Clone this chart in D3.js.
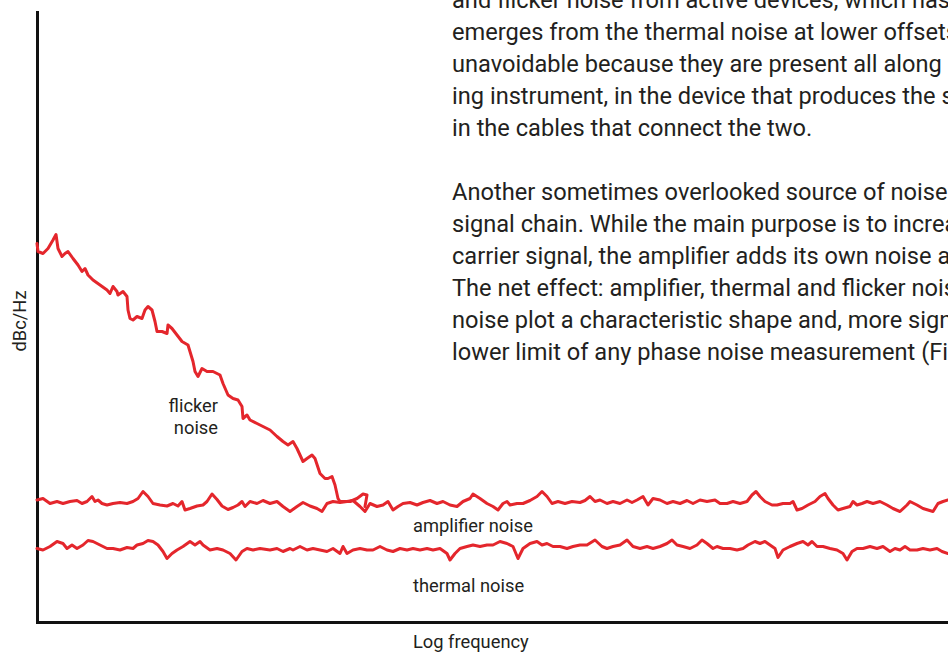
<!DOCTYPE html>
<html>
<head>
<meta charset="utf-8">
<script src="https://cdn.jsdelivr.net/npm/d3@7"></script>
<style>
  body { margin: 0; background: #fff; }
  svg { display: block; background: #fff; }
  text { font-family: Roboto, "Liberation Sans", sans-serif; fill: #231f20; }
  .domain { stroke: #111; stroke-width: 3; stroke-linecap: square; }
  .noise { fill: none; stroke: #e4262c; stroke-width: 3; stroke-linejoin: round; stroke-linecap: round; }
</style>
</head>
<body>
<svg width="948" height="654"></svg>
<script>
// log frequency (relative units) vs level (relative dB)
const amplifierNoise = [
  [0,24.4],[0.6,24.7],[1.3,23.7],[2,24.1],[2.6,23.7],[3.3,24.1],[4,24.3],[4.5,23.7],[5,24.1],[5.5,25.1],
  [5.8,24.1],[6.1,24.4],[6.5,23.7],[7,23.4],[7.6,23.7],[8.3,23.9],[9,23.7],[9.6,24.1],[10.1,24.7],[10.6,26.1],
  [11.1,25.1],[11.6,23.7],[12.3,23.4],[13,23.2],[13.6,23.7],[14.1,23.2],[14.5,24.1],[14.8,22.4],[15.3,22.7],[16,23.2],
  [16.6,23.4],[17,24.1],[17.5,25.6],[18,24.5],[18.5,23.2],[19.1,22.5],[19.6,22.9],[20.1,23.4],[20.5,24.1],[20.8,23.1],
  [21.3,24.1],[22,23.7],[22.6,24.3],[23.3,23.7],[24,24.1],[24.6,23.1],[25.3,22.1],[26,23.1],[26.6,23.9],[27.3,23.2],
  [28,22.7],[28.5,22.1],[29,23.7],[29.6,24.1],[30.3,23.9],[31,24.1],[31.6,24.3],[32.3,23.1],[32.8,22.1],[33.3,23.7],
  [34,23.1],[34.6,23.4],[35.1,24.1],[35.6,22.4],[36.1,23.1],[36.6,23.7],[37.3,23.9],[38,23.4],[38.6,23.9],[39.3,24.3],
  [40,23.7],[40.6,24.1],[41.3,23.4],[42,23.1],[42.6,24.1],[43.3,24.7],[43.6,25.6],[44.3,24.7],[45,23.7],[45.6,23.1],
  [46.1,22.4],[46.6,23.7],[47,24.1],[47.3,23.4],[48,23.7],[48.6,23.7],[49.3,24.3],[50,25.1],[50.5,26.1],[51,25.1],
  [51.5,23.7],[52.1,24.1],[52.8,23.7],[53.5,24.1],[54.3,23.9],[54.8,24.3],[55.3,25.1],[55.8,24.1],[56.3,24.4],[57,23.7],
  [57.6,24.1],[58.3,23.7],[59,24.4],[59.5,23.9],[60,24.4],[60.6,25.1],[61.1,23.4],[61.6,24.7],[62.3,24.4],[63,23.7],
  [63.6,24.1],[64.3,23.7],[65,24.3],[65.6,23.7],[66.3,24.4],[67,24.1],[67.8,24.4],[68.3,23.7],[69,23.7],[69.6,24.1],
  [70.3,23.7],[71,24.1],[71.5,25.4],[71.9,26.1],[72.3,25.1],[72.8,24.1],[73.5,23.4],[74,23.4],[74.6,23.7],[75.3,23.7],
  [75.6,24.1],[76,22.4],[76.5,22.7],[77.1,23.4],[77.8,24.1],[78.3,25.1],[78.8,25.7],[79.1,24.7],[79.6,23.4],[80.1,22.4],
  [80.6,22.7],[81.3,23.1],[81.6,24.1],[82,23.4],[82.5,23.7],[83,24.1],[83.6,23.7],[84.3,24.1],[85,23.4],[85.6,22.7],
  [86.3,22.1],[87,23.4],[87.3,24.1],[88,23.4],[88.6,22.7],[89.1,22.4],[89.6,22.1],[90.1,23.7],[90.6,24.1],[91.1,24.4],
  [92,24.4]
];

const thermalNoise = [
  [0,14.7],[0.6,14.4],[1.3,15.1],[2,16.1],[2.6,15.7],[3,14.7],[3.5,15.4],[4,14.7],[4.6,15.4],[5.1,16.3],
  [5.6,16.1],[6.3,15.4],[7,14.7],[7.6,14.7],[8.3,14.4],[9,14.9],[9.6,14.7],[10,15.4],[10.6,15.7],[11.1,16.3],
  [11.6,16.1],[12.1,15.4],[12.6,14.1],[13,12.7],[13.5,13.7],[14,14.4],[14.6,15.1],[15.3,16.1],[15.8,15.4],[16.3,16.1],
  [16.6,15.4],[17.3,14.4],[18,14.7],[18.6,14.4],[19.3,13.7],[19.9,12.4],[20.5,14.1],[21,14.7],[21.6,14.4],[22.3,14.7],
  [23.3,14.4],[24,14.7],[24.6,14.1],[25.3,14.7],[25.6,14.4],[26.3,15.1],[27,14.4],[27.6,14.7],[28.3,14.4],[29,14.1],
  [29.6,14.7],[30.3,13.7],[30.6,15.1],[31,13.7],[31.6,14.4],[32.3,14.7],[33,14.4],[33.6,14.4],[34.3,15.1],[35,14.4],
  [35.6,14.1],[36.3,14.7],[37,14.4],[37.6,14.7],[38.3,14.4],[39,14.7],[39.6,14.4],[40.3,14.7],[41,13.7],[41.3,12.4],
  [41.8,13.7],[42.3,14.7],[43,15.1],[43.6,15.4],[44.3,15.1],[45,15.4],[45.6,15.4],[46.3,16.1],[47,15.7],[47.6,15.1],
  [48.1,12.7],[48.6,14.7],[49.3,15.7],[50,16.1],[50.5,15.4],[51,15.7],[51.6,15.1],[52.3,15.1],[53,14.7],[53.6,15.1],
  [54.3,15.4],[55,15.4],[55.8,16.4],[56.5,15.1],[57,14.7],[57.6,15.1],[58.3,15.4],[59,16.4],[59.6,15.1],[60.3,14.7],
  [61,15.1],[61.6,14.7],[62.3,15.1],[63,15.7],[63.5,16.4],[64,15.4],[64.6,15.1],[65.3,14.7],[66,15.4],[66.5,16.4],
  [67,15.7],[67.6,14.7],[68,15.1],[68.6,14.7],[69.3,14.7],[70,14.4],[70.6,14.7],[71.1,15.4],[71.8,16.1],[72.3,15.7],
  [72.8,16.1],[73.3,15.4],[73.8,14.7],[74.1,12.9],[74.6,14.4],[75.3,15.1],[76,15.7],[76.6,16.1],[77.1,15.4],[77.5,16.1],
  [78,15.1],[78.6,15.1],[79.3,14.7],[80,14.4],[80.6,13.7],[81,12.4],[81.5,14.1],[82,14.7],[82.6,14.7],[83.3,15.1],
  [84,14.7],[84.6,15.1],[85.3,14.1],[85.8,14.7],[86.3,14.4],[86.8,15.1],[87.3,14.4],[88,14.4],[88.6,14.7],[89.3,14.4],
  [90,14.7],[90.5,14.1],[91.1,13.7],[92,14]
];

const flickerNoise = [
  [0,75.7],[0.1,74.1],[0.6,73.7],[1.1,74.7],[1.6,76.4],[1.9,77.5],[2.1,74.7],[2.5,73.1],[2.8,73.7],[3.1,74.1],
  [3.6,72.7],[4.1,71.4],[4.5,70.1],[4.8,70.7],[5.1,69.4],[5.6,68.4],[6.3,67.4],[7,66.4],[7.3,65.7],[7.6,67.1],
  [8,66.1],[8.1,65.4],[8.6,66.1],[9,65.1],[9.1,62.4],[9.3,60.7],[9.6,60.4],[10,61.1],[10.5,60.7],[10.8,62.4],
  [11.1,63.1],[11.5,62.4],[11.8,60.1],[12,58.1],[12.5,58.1],[13,57.7],[13.1,59.4],[13.5,58.7],[14,57.4],[14.5,56.1],
  [15.1,55.4],[15.6,52.1],[15.8,50.1],[16.1,49.1],[16.5,50.7],[17,50.1],[17.6,50.1],[18.3,49.4],[18.6,47.7],[19.1,45.4],
  [19.6,44.7],[20.1,44.4],[20.5,43.1],[20.6,40.7],[21,41.4],[21.3,40.4],[22,39.7],[22.6,39.1],[23.3,38.4],[24,37.1],
  [24.6,36.1],[25.1,35.4],[25.6,36.1],[26,34.7],[26.3,33.4],[26.6,32.1],[27,32.7],[27.5,33.4],[27.8,32.7],[28.3,29.7],
  [28.8,28.7],[29.1,28.7],[29.5,29.1],[29.8,27.4],[30.1,24.7],[30.3,24.1],[31.3,24.1],[32,24.7],[32.6,25.6],[33,25.4],
  [32.8,23.1]
];

const paragraphLines = [
  "and flicker noise from active devices, which has",
  "emerges from the thermal noise at lower offsets",
  "unavoidable because they are present all along",
  "ing instrument, in the device that produces the signal",
  "in the cables that connect the two.",
  "",
  "Another sometimes overlooked source of noise",
  "signal chain. While the main purpose is to increase",
  "carrier signal, the amplifier adds its own noise and",
  "The net effect: amplifier, thermal and flicker noise",
  "noise plot a characteristic shape and, more significantly,",
  "lower limit of any phase noise measurement (Figure"
];

const curveLabels = [
  {lines: ["flicker", "noise"], at: [18.1, 42], anchor: "end"},
  {lines: ["amplifier noise"], at: [37.6, 18], anchor: "start"},
  {lines: ["thermal noise"], at: [37.6, 6], anchor: "start"}
];

const svg = d3.select("svg");

// plot area runs past the right edge of the picture, as in the cropped original
const x = d3.scaleLinear().domain([0, 100]).range([37, 1037]);
const y = d3.scaleLinear().domain([0, 122]).range([622, 12]);

// pick a font size so that a sample string has the wanted width
function fitSize(sample, width, base) {
  let t = svg.append("text").attr("font-size", base).text(sample);
  let w = t.node().getComputedTextLength();
  t.remove();
  return base * width / w;
}

const bodySize = fitSize("emerges from the thermal noise at lower offset", 494, 20);
const labelSize = fitSize("amplifier noise", 120, 16);

// body text to the right of the chart
svg.append("g")
    .selectAll("text")
    .data(paragraphLines)
    .enter().append("text")
    .attr("x", 452)
    .attr("y", (d, i) => 8 + i * 32)
    .attr("font-size", bodySize)
    .text(d => d);

// axes without ticks
svg.append("g")
    .attr("transform", "translate(0," + y(0) + ")")
    .call(d3.axisBottom(x).ticks(0).tickSizeOuter(0));
svg.append("g")
    .attr("transform", "translate(" + x(0) + ",0)")
    .call(d3.axisLeft(y).ticks(0).tickSizeOuter(0));

let line = d3.line()
    .x(d => x(d[0]))
    .y(d => y(d[1]));

svg.append("g")
    .selectAll("path")
    .data([thermalNoise, amplifierNoise, flickerNoise])
    .enter().append("path")
    .attr("class", "noise")
    .attr("d", line);

// curve labels
let lab = svg.append("g")
    .selectAll("text")
    .data(curveLabels)
    .enter().append("text")
    .attr("font-size", labelSize)
    .attr("text-anchor", d => d.anchor);
lab.selectAll("tspan")
    .data(d => d.lines.map((s, i) => ({s, i, d})))
    .enter().append("tspan")
    .attr("x", d => x(d.d.at[0]))
    .attr("y", d => y(d.d.at[1]) + d.i * 22)
    .text(d => d.s);

// axis titles
svg.append("text")
    .attr("transform", "translate(26," + ((y(0) + y(122)) / 2 + 4) + ") rotate(-90)")
    .attr("text-anchor", "middle")
    .attr("font-size", labelSize)
    .text("dBc/Hz");
svg.append("text")
    .attr("x", x(37.6))
    .attr("y", 648)
    .attr("font-size", labelSize)
    .text("Log frequency");
</script>
</body>
</html>
